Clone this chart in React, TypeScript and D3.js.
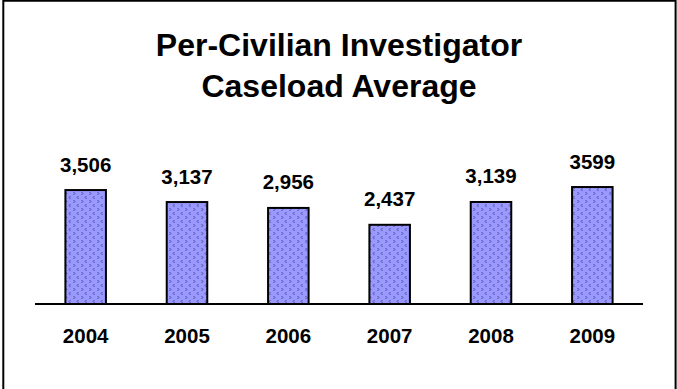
import React from "react";
import * as d3 from "d3";

const years = ["2004", "2005", "2006", "2007", "2008", "2009"];
const values = [3506, 3137, 2956, 2437, 3139, 3599];
const valueLabels = ["3,506", "3,137", "2,956", "2,437", "3,139", "3599"];
const titleLines = ["Per-Civilian Investigator", "Caseload Average"];

const W = 677;
const H = 389;

export default function App() {
  const x = d3.scaleBand<string>().domain(years).range([35, 643]).paddingInner(0.6).paddingOuter(0.3);
  const y = d3.scaleLinear().domain([0, 4000]).range([304, 174]);
  const font = "'Liberation Sans', Arial, sans-serif";
  return (
    <svg width={W} height={H} style={{ position: "absolute", left: 0, top: 0, background: "#fff" }}>
      <defs>
        <pattern id="wave" width="8" height="8" patternUnits="userSpaceOnUse">
          <rect width="8" height="8" fill="#9999FF" />
          <polyline points="1.5,0 2.8,1.5 1.5,3" fill="none" stroke="#3a3a7a" strokeWidth="0.8" />
          <polyline points="6.5,4 5.2,5.5 6.5,7" fill="none" stroke="#3a3a7a" strokeWidth="0.8" />
        </pattern>
      </defs>
      <rect x={0} y={0} width={W} height={H} fill="#fff" />
      <path d={`M3.3,${H + 5} V0.7 H675.6 V${H + 5}`} fill="none" stroke="#000" strokeWidth={2} />
      {titleLines.map((t, i) => (
        <text key={t} x={339} y={56 + i * 41} textAnchor="middle" fontFamily={font} fontWeight="bold" fontSize={32} fill="#000">
          {t}
        </text>
      ))}
      {years.map((yr, i) => {
        const bx = x(yr)!;
        const bw = x.bandwidth();
        const top = y(values[i]);
        return (
          <g key={yr}>
            <rect x={bx} y={top} width={bw} height={y(0) - top} fill="url(#wave)" stroke="#000" strokeWidth={2} />
            <text x={bx + bw / 2} y={top - 18.5} textAnchor="middle" fontFamily={font} fontWeight="bold" fontSize={20.5} fill="#000">
              {valueLabels[i]}
            </text>
            <text x={bx + bw / 2} y={343} textAnchor="middle" fontFamily={font} fontWeight="bold" fontSize={20.5} fill="#000">
              {yr}
            </text>
          </g>
        );
      })}
      <line x1={35} x2={643} y1={y(0)} y2={y(0)} stroke="#000" strokeWidth={2} />
    </svg>
  );
}
